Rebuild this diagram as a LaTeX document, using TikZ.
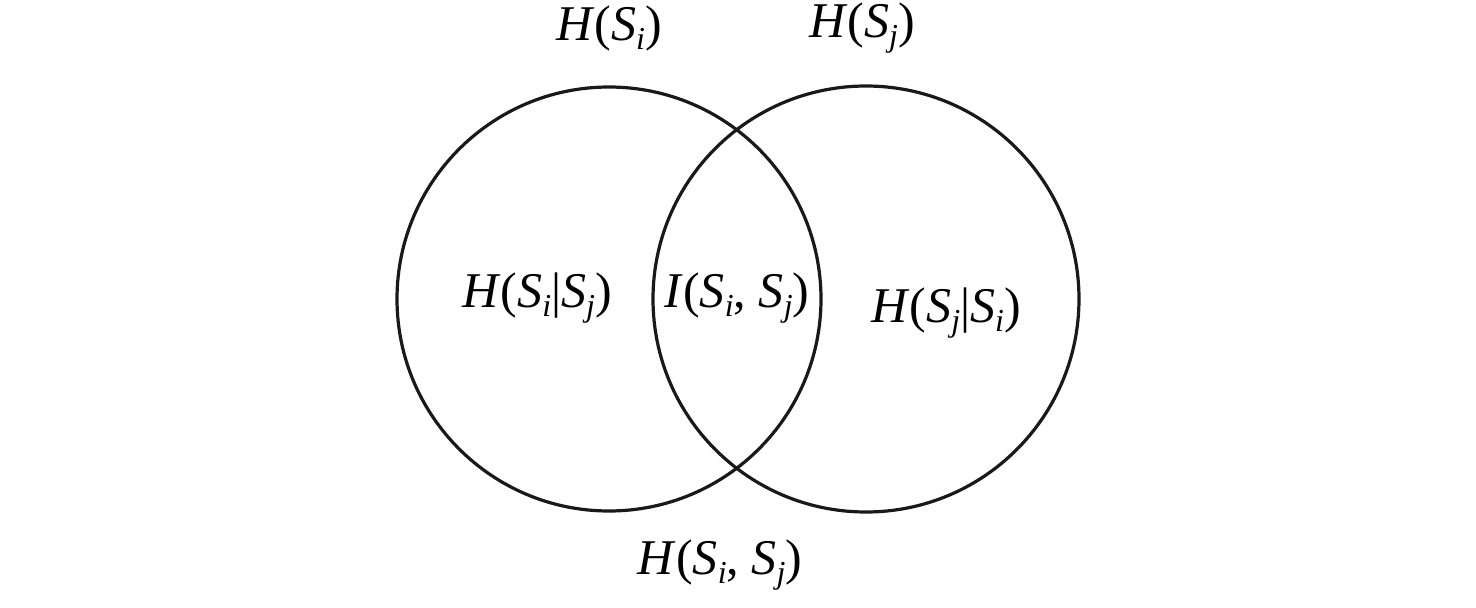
\documentclass[tikz,border=0pt]{standalone}
\usepackage{fontspec}
\setmainfont{Liberation Serif}
\newcommand{\V}[2]{\textit{#1}\raisebox{-0.18em}{\fontsize{32}{36}\selectfont\textit{#2}}}
\begin{document}
\begin{tikzpicture}[x=1pt,y=-1pt,
  lbl/.style={font=\fontsize{50}{56}\selectfont, inner sep=0pt},
  venn/.style={draw=black!90, line width=3.2pt}]
\useasboundingbox (0,0) rectangle (1476,608);
\node[venn, circle, minimum size=424pt, inner sep=0pt] (A) at (609,299) {};
\node[venn, circle, minimum size=426pt, inner sep=0pt] (B) at (866,299) {};
\node[lbl] (hA) at (609,28) {\textit{H}(\V{S}{i})};
\node[lbl] (hB) at (862,28) {\textit{H}(\V{S}{j})};
\node[lbl] (cA) at (537,298) {\textit{H}(\V{S}{i}|\V{S}{j})};
\node[lbl] (mi) at (737,298) {\textit{I}(\V{S}{i}, \V{S}{j})};
\node[lbl] (cB) at (946,313) {\textit{H}(\V{S}{j}|\V{S}{i})};
\node[lbl] (jt) at (720,565) {\textit{H}(\V{S}{i}, \V{S}{j})};
\end{tikzpicture}
\end{document}
